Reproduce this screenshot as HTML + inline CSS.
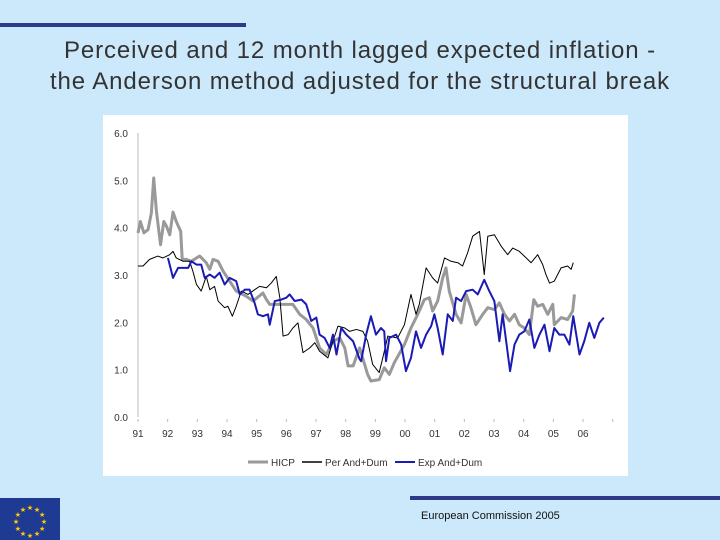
<!DOCTYPE html>
<html><head><meta charset="utf-8"><style>
body{margin:0;width:720px;height:540px;background:#cce8fb;position:relative;overflow:hidden;font-family:"Liberation Sans",sans-serif}
.t{position:absolute;left:0;width:720px;text-align:center;font-size:24px;letter-spacing:0.9px;color:#333}
</style></head><body>
<div style="position:absolute;left:0;top:23px;width:246px;height:4px;background:#2e3a87"></div>
<div class="t" style="top:37px">Perceived and 12 month lagged expected inflation -</div>
<div class="t" style="top:68px">the Anderson method adjusted for the structural break</div>
<svg id="c" width="720" height="540" style="position:absolute;left:0;top:0">
<rect x="103" y="115" width="525" height="361" fill="#fff"/>
</svg>
<div style="position:absolute;left:0;top:498px;width:60px;height:42px;background:#1f3a93"></div>
<svg width="60" height="42" style="position:absolute;left:0;top:498px" id="stars"></svg>
<div style="position:absolute;left:410px;top:496px;width:310px;height:4px;background:#2e3a87"></div>
<div style="position:absolute;left:421px;top:510px;font-size:11px;color:#111">European Commission 2005</div>
<script>
const hicpX=[91.00,91.08,91.20,91.34,91.45,91.53,91.62,91.76,91.87,91.96,92.07,92.18,92.29,92.44,92.49,92.63,92.80,92.97,93.08,93.30,93.42,93.53,93.70,93.87,94.09,94.31,94.65,94.88,95.21,95.33,95.44,95.78,96.22,96.45,96.67,96.90,97.12,97.35,97.57,97.80,97.97,98.08,98.25,98.47,98.74,98.85,99.13,99.30,99.47,99.64,99.98,100.20,100.43,100.65,100.82,100.93,101.10,101.27,101.38,101.49,101.72,101.89,102.06,102.22,102.39,102.62,102.79,103.01,103.18,103.35,103.52,103.69,103.85,104.02,104.19,104.34,104.47,104.64,104.81,104.98,105.03,105.26,105.48,105.65,105.71];
const hicpY=[3.89,4.13,3.89,3.96,4.31,5.05,4.35,3.64,4.13,4.03,3.85,4.33,4.13,3.92,3.33,3.33,3.29,3.36,3.40,3.26,3.12,3.33,3.29,3.08,2.87,2.66,2.55,2.45,2.62,2.48,2.38,2.38,2.38,2.17,2.06,1.88,1.46,1.32,1.60,1.67,1.46,1.08,1.08,1.46,0.90,0.76,0.79,1.04,0.90,1.15,1.53,1.88,2.17,2.48,2.52,2.24,2.45,2.94,3.15,2.66,2.17,1.99,2.59,2.31,1.95,2.17,2.31,2.27,2.41,2.17,2.03,2.17,1.95,1.88,1.74,2.48,2.34,2.38,2.17,2.38,1.95,2.10,2.06,2.24,2.59];
const perX=[91.00,91.17,91.39,91.67,91.84,92.07,92.18,92.29,92.52,92.74,92.85,92.97,93.13,93.30,93.42,93.58,93.70,93.92,94.03,94.18,94.31,94.48,94.71,94.93,95.10,95.33,95.49,95.66,95.78,95.89,96.06,96.22,96.39,96.56,96.79,96.96,97.12,97.40,97.57,97.74,97.97,98.13,98.36,98.58,98.74,98.91,99.13,99.25,99.42,99.75,99.98,100.20,100.37,100.48,100.71,100.93,101.10,101.33,101.55,101.78,101.94,102.11,102.28,102.51,102.67,102.79,103.01,103.24,103.46,103.63,103.85,104.02,104.25,104.47,104.64,104.75,104.87,105.03,105.26,105.48,105.60,105.67];
const perY=[3.19,3.19,3.33,3.40,3.36,3.43,3.50,3.36,3.29,3.29,3.08,2.80,2.66,2.97,2.69,2.76,2.45,2.31,2.34,2.13,2.34,2.66,2.59,2.69,2.76,2.73,2.83,2.97,2.52,1.71,1.74,1.88,1.99,1.36,1.46,1.57,1.39,1.25,1.60,1.92,1.88,1.81,1.85,1.81,1.60,1.11,0.94,1.25,1.71,1.67,1.95,2.59,2.17,2.38,3.15,2.94,2.83,3.36,3.29,3.26,3.19,3.47,3.82,3.92,3.01,3.82,3.85,3.61,3.43,3.57,3.50,3.40,3.26,3.43,3.22,3.01,2.83,2.87,3.15,3.19,3.12,3.26];
const expX=[92.01,92.18,92.35,92.52,92.69,92.80,92.97,93.13,93.25,93.42,93.58,93.75,93.92,94.09,94.31,94.43,94.60,94.76,94.93,95.04,95.21,95.38,95.44,95.61,95.83,96.00,96.11,96.28,96.51,96.67,96.84,97.01,97.12,97.29,97.46,97.57,97.69,97.85,98.02,98.25,98.47,98.52,98.69,98.85,99.02,99.19,99.30,99.36,99.47,99.70,99.87,100.03,100.20,100.37,100.54,100.71,100.88,100.99,101.10,101.27,101.44,101.61,101.72,101.89,102.06,102.28,102.45,102.67,102.84,103.01,103.18,103.29,103.54,103.69,103.85,104.02,104.19,104.36,104.53,104.70,104.87,105.03,105.20,105.37,105.54,105.67,105.88,106.04,106.21,106.38,106.55,106.70];
const expY=[3.36,2.94,3.15,3.15,3.15,3.29,3.22,3.22,2.94,3.01,2.94,3.05,2.80,2.94,2.87,2.59,2.69,2.69,2.41,2.17,2.13,2.17,1.95,2.45,2.48,2.52,2.59,2.45,2.48,2.38,2.03,2.10,1.74,1.67,1.46,1.74,1.32,1.88,1.74,1.60,1.22,1.18,1.74,2.13,1.74,1.88,1.81,1.18,1.67,1.74,1.53,0.97,1.25,1.81,1.46,1.74,1.92,2.17,1.88,1.32,2.17,2.03,2.52,2.45,2.66,2.69,2.59,2.90,2.66,2.45,1.60,2.17,0.97,1.53,1.74,1.81,2.06,1.46,1.74,1.95,1.39,1.88,1.74,1.74,1.53,2.13,1.32,1.60,1.99,1.67,1.99,2.10];
const yTicks=[0,1,2,3,4,5,6];
const xTickLabels=["91","92","93","94","95","96","97","98","99","00","01","02","03","04","05","06"];
const NS="http://www.w3.org/2000/svg";
const svg=document.getElementById('c');
const sx=v=>138+(v-91)*29.67;
const sy=v=>417-v*47.33;
function mk(t,a){const e=document.createElementNS(NS,t);for(const k in a)e.setAttribute(k,a[k]);svg.appendChild(e);return e;}
const ax=mk('line',{x1:138,y1:sy(6),x2:138,y2:sy(0),stroke:'#bbb','stroke-width':1});


yTicks.forEach(v=>{const t=mk('text',{x:128,y:sy(v)+4,'text-anchor':'end','font-size':10,fill:'#333','font-family':'Liberation Sans'});t.textContent=v.toFixed(1);

});
for(let i=0;i<=16;i++){const tk=mk('line',{x1:sx(91+i),x2:sx(91+i),y1:419,y2:422,stroke:'#bbb'});

}
xTickLabels.forEach((l,i)=>{const t=mk('text',{x:sx(91+i),y:437,'text-anchor':'middle','font-size':10,fill:'#333','font-family':'Liberation Sans'});t.textContent=l;

});
function line(X,Y,col,w,name){const p=mk('polyline',{points:X.map((x,i)=>sx(x)+','+sy(Y[i])).join(' '),fill:'none',stroke:col,'stroke-width':w,'stroke-linejoin':'round'});

}
line(hicpX,hicpY,'#999',3,'hicp-line');
line(perX,perY,'#000',1,'per-and-dum-line');
line(expX,expY,'#1a1ab4',2,'exp-and-dum-line');
const leg=[['HICP','#999',3,248,'legend-hicp'],['Per And+Dum','#000',1.5,302,'legend-per'],['Exp And+Dum','#1a1ab4',2,395,'legend-exp']];
leg.forEach(([t,c,w,x,n])=>{const l=mk('line',{x1:x,x2:x+20,y1:462,y2:462,stroke:c,'stroke-width':w});


const tx=mk('text',{x:x+23,y:466,'font-size':10,fill:'#333','font-family':'Liberation Sans'});tx.textContent=t;

});
const st=document.getElementById('stars');
for(let i=0;i<12;i++){const a=i*Math.PI/6;const c=document.createElementNS(NS,'text');c.setAttribute('x',30+14*Math.sin(a));c.setAttribute('y',23-14*Math.cos(a)+3);c.setAttribute('font-size',7);c.setAttribute('fill','#fc0');c.setAttribute('text-anchor','middle');c.textContent='★';st.appendChild(c);}
</script>
</body></html>
